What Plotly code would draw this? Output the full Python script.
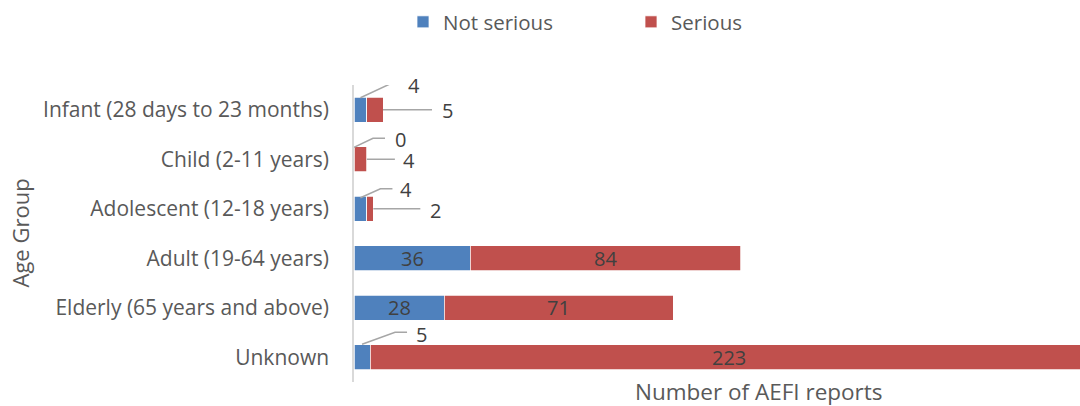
import plotly.graph_objects as go

# ---- data ----
categories = ["Infant (28 days to 23 months)", "Child (2-11 years)", "Adolescent (12-18 years)",
              "Adult (19-64 years)", "Elderly (65 years and above)", "Unknown"]
not_serious = [4, 0, 4, 36, 28, 5]
serious = [5, 4, 2, 84, 71, 223]
series_names = ["Not serious", "Serious"]
x_title = "Number of AEFI reports"
y_title = "Age Group"

# ---- style ----
BLUE = "#4F81BD"
RED = "#C0504D"
FONT = "Open Sans"
LABEL_COLOR = "#404040"
TEXT_COLOR = "#595959"
INSIDE_MIN = 20  # segments at least this big get centred labels, others use callouts

# callout geometry (pixel offsets, y up) per category index
ns_callouts = {0: ([(0, 12), (30, 26), (42, 26)], (54, 24)),
               1: ([(0, 12), (19, 21), (31, 21)], (46, 20)),
               2: ([(0, 11), (20, 20), (32, 20)], (46, 19)),
               5: ([(0, 13), (33, 25), (45, 25)], (59, 23))}
s_callouts = {0: ([(0, 0), (49, 0)], (64, -1)),
              1: ([(0, 0), (28, 0)], (42, -1)),
              2: ([(0, 0), (47, 0)], (62, -2))}

fig = go.Figure()
for name, vals, col in [(series_names[0], not_serious, BLUE), (series_names[1], serious, RED)]:
    fig.add_trace(go.Bar(
        y=categories, x=vals, name=name, orientation="h",
        marker=dict(color=col, line=dict(color="white", width=0.75)),
        hoverinfo="x+y+name",
    ))

shapes = []
annotations = []

def label_font():
    return dict(family=FONT, size=20, color=LABEL_COLOR)

def add_callout(xval, cat, pts, tpos, label):
    path = "M" + " L".join(f"{px},{py}" for px, py in pts)
    shapes.append(dict(type="path", xref="x", yref="y", xsizemode="pixel", ysizemode="pixel",
                       xanchor=xval, yanchor=cat, path=path,
                       line=dict(color="#A6A6A6", width=1.5)))
    annotations.append(dict(x=xval, y=cat, xref="x", yref="y", text=label, showarrow=False,
                            xshift=tpos[0], yshift=tpos[1], xanchor="center", yanchor="middle",
                            font=label_font()))

for i, cat in enumerate(categories):
    ns, s = not_serious[i], serious[i]
    if i in ns_callouts:
        pts, tpos = ns_callouts[i]
        add_callout(ns / 2, cat, pts, tpos, str(ns))
    elif ns >= INSIDE_MIN:
        annotations.append(dict(x=ns / 2, y=cat, xref="x", yref="y", text=str(ns), showarrow=False,
                                xanchor="center", yanchor="middle", font=label_font()))
    if i in s_callouts:
        pts, tpos = s_callouts[i]
        add_callout(ns + s, cat, pts, tpos, str(s))
    elif s >= INSIDE_MIN:
        annotations.append(dict(x=ns + s / 2, y=cat, xref="x", yref="y", text=str(s), showarrow=False,
                                xanchor="center", yanchor="middle", font=label_font()))

annotations.append(dict(text=x_title, xref="paper", yref="paper", x=(759 - 354) / 726,
                        y=(382 - 391) / 297,
                        xanchor="center", yanchor="middle", showarrow=False,
                        font=dict(family=FONT, size=22.5, color=TEXT_COLOR)))
annotations.append(dict(text=y_title, xref="paper", yref="paper", x=-(354 - 19) / 726, y=0.5,
                        xanchor="center", yanchor="middle", showarrow=False, textangle=-90,
                        font=dict(family=FONT, size=22, color=TEXT_COLOR)))

fig.update_layout(
    width=1080, height=406,
    barmode="stack", bargap=0.49,
    plot_bgcolor="white", paper_bgcolor="white",
    margin=dict(l=354, r=0, t=85, b=24),
    xaxis=dict(range=[0, 225.3], showticklabels=False, showgrid=False, zeroline=False,
               showline=False, ticks="", fixedrange=True),
    yaxis=dict(categoryorder="array", categoryarray=categories, range=[5.5, -0.5],
               autorange=False,
               showline=True, linecolor="#D9D9D9", linewidth=1.5, showgrid=False, ticks="",
               ticklabelstandoff=19,
               tickfont=dict(family=FONT, size=21, color=TEXT_COLOR)),
    legend=dict(orientation="h", xref="container", yref="container", x=403 / 1080, y=1 - 2 / 406,
                xanchor="left", yanchor="top", entrywidth=183, entrywidthmode="pixels",
                traceorder="normal",
                font=dict(family=FONT, size=20.5, color=TEXT_COLOR), bgcolor="rgba(0,0,0,0)"),
    shapes=shapes, annotations=annotations,
)

fig.write_html("out.html")
